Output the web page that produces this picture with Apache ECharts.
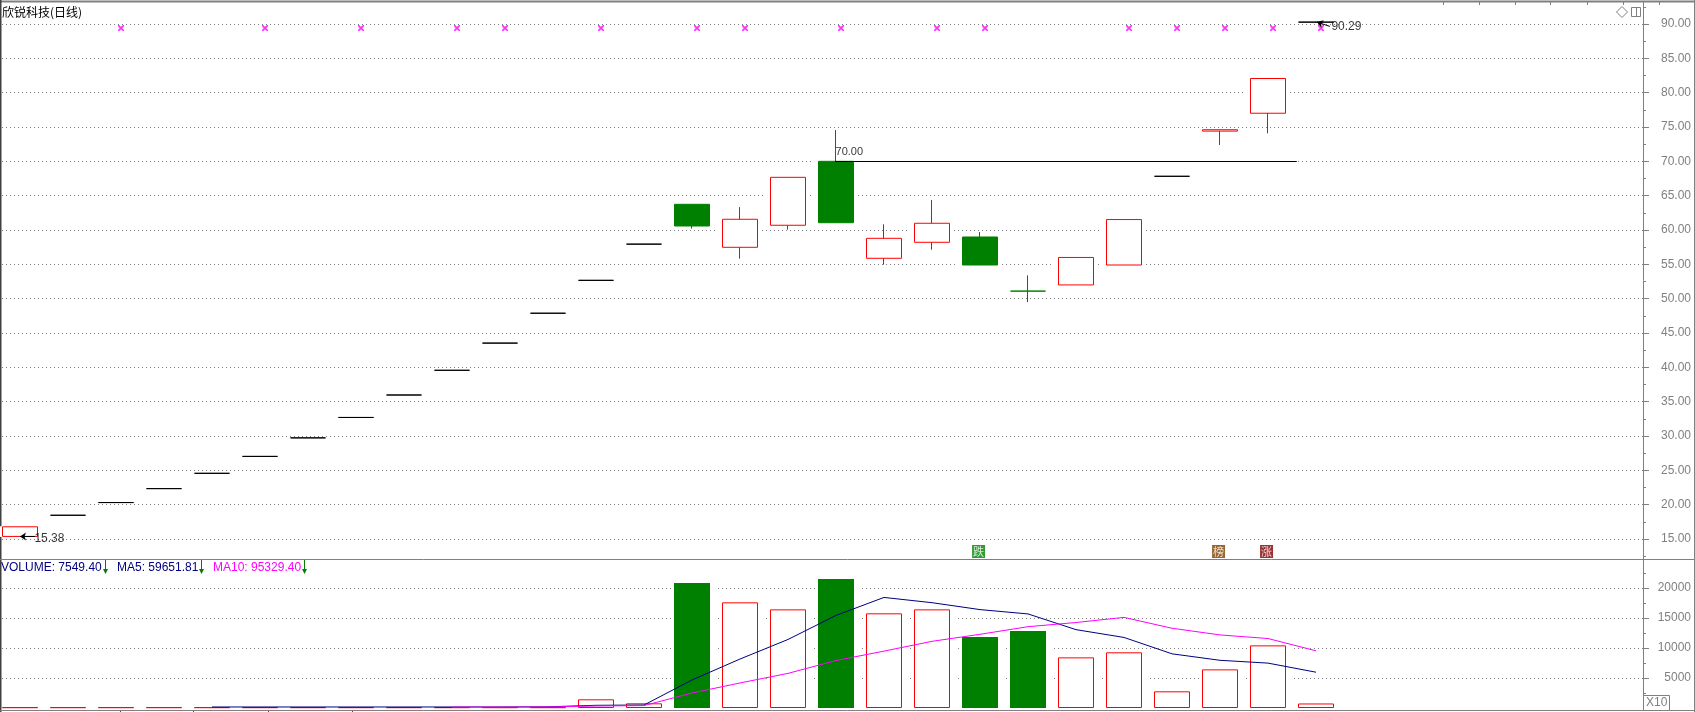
<!DOCTYPE html>
<html><head><meta charset="utf-8">
<style>html,body{margin:0;padding:0;background:#fff}#c{width:1695px;height:712px}</style>
<script src="https://cdn.jsdelivr.net/npm/echarts@6/dist/echarts.min.js"></script>
</head><body><div id="c"></div>
<script>
// ---- data ----
const dayIndex = [0,1,2,3,4,5,6,7,8,9,10,11,12,13,14,15,16,17,18,19,20,21,22,23,24,25,26,27];
const opens  = [15.38,18.46,20.31,22.34,24.57,27.03,29.73,32.70,35.97,39.57,43.53,47.88,52.67,57.94,63.74,57.48,60.69,70.00,55.88,58.21,58.98,51.10,52.00,54.90,67.82,74.40,77.00,90.27];
const closes = [16.78,18.46,20.31,22.34,24.57,27.03,29.73,32.70,35.97,39.57,43.53,47.88,52.67,57.94,60.58,61.56,67.67,61.06,58.79,60.98,54.90,51.10,56.00,61.52,67.82,74.60,82.06,90.27];
const lows   = [15.38,18.46,20.31,22.34,24.57,27.03,29.73,32.70,35.97,39.57,43.53,47.88,52.67,57.94,60.19,55.82,60.05,61.06,54.95,57.13,54.90,49.50,52.00,54.90,67.82,72.38,74.08,90.27];
const highs  = [16.78,18.46,20.31,22.34,24.57,27.03,29.73,32.70,35.97,39.57,43.53,47.88,52.67,57.94,63.74,63.33,67.67,74.56,60.83,64.37,59.70,53.40,56.00,61.52,67.82,74.60,82.06,90.27];
const volumes = [130,130,130,130,130,130,130,130,130,130,130,130,1450,780,20830,17610,16440,21500,15780,16440,11830,12830,8440,9280,2780,6440,10440,755];
const ma5Values  = [null,null,null,null,170,170,170,170,170,170,170,200,450,500,4670,8160,11420,15430,18430,17550,16400,15680,13060,11760,9030,7950,7480,5965];
const ma10Values = [null,null,null,null,null,null,null,null,null,150,150,170,330,400,2500,4170,5770,7910,9480,11110,12280,13550,14250,15100,13290,12180,11580,9533];
const greenDoji = [21];
const greenVolumeDays = [14,17,20,21];
const crossDays = [2,5,7,9,10,12,14,15,17,19,20,23,24,25,26,27];
const crossPrice = 89.4;
const priceTicks = [15,20,25,30,35,40,45,50,55,60,65,70,75,80,85,90];
const priceMinorTicks = [12.5,17.5,22.5,27.5,32.5,37.5,42.5,47.5,52.5,57.5,62.5,67.5,72.5,77.5,82.5,87.5,92.5];
const volumeTicks = [5000,10000,15000,20000];
const volumeMinorTicks = [2500,7500,12500,17500,22500];
const tagNames = ['跌','榜','涨'];
const tagDays = [19.97,24.97,25.97];
const tagColors = ['#008000','#804000','#800000'];
const tagPrice = 13.18;
const notes = [['15.38',0.29,15.0,12],['90.29',27.31,89.56,12],['70.00',16.98,71.36,11]];
const chartTitle = '欣锐科技(日线)';

const RED='#ff0000', GREEN='#008000', GRAY='#808080', NAVY='#000080', PINK='#ff00ff';
const FONT='"Liberation Sans",Arial,sans-serif', CJK='"Noto Sans CJK SC",sans-serif';
const candles = dayIndex.map((d,i)=>[d,opens[i],closes[i],lows[i],highs[i]]);
const candleItems = candles.map((c,i)=>greenDoji.includes(i)?{value:c,itemStyle:{borderColorDoji:GREEN}}:c);
const volBars = dayIndex.map((d,i)=>({value:[d,volumes[i]],itemStyle:greenVolumeDays.includes(i)?{color:GREEN,borderColor:GREEN,borderWidth:0}:{color:'#fff',borderColor:RED,borderWidth:1}}));
const volHalo = dayIndex.map((d,i)=>[d,volumes[i]]);
const grid1={left:2,top:2,width:1641,height:557}, grid2={left:2,top:560,width:1641,height:150};
const xCommon={type:'value',min:-0.375,max:33.8125,show:false,splitLine:{show:false}};
const dotted={show:true,lineStyle:{color:GRAY,type:[1,3],width:1}};
function yAxisMain(gridIndex,min,max,ticks,fmt){return {type:'value',gridIndex,position:'right',min,max,scale:true,
  axisLine:{show:true,onZero:false,lineStyle:{color:GRAY,width:1}},
  axisTick:{show:true,length:6,customValues:ticks,lineStyle:{color:GRAY}},
  axisLabel:{show:true,customValues:ticks,formatter:fmt,align:'right',margin:48,color:GRAY,fontFamily:FONT,fontSize:12,padding:[5,0,0,0],showMinLabel:true,showMaxLabel:true,hideOverlap:false},
  splitLine:dotted};}
// the short in-between ticks: a second axis of the same pane, moved onto the right edge
function yAxisMinor(gridIndex,min,max,ticks){return {type:'value',gridIndex,position:'left',offset:-1641,min,max,scale:true,
  axisLine:{show:false,onZero:false},axisLabel:{show:false},splitLine:{show:false},
  axisTick:{show:true,inside:true,length:3,customValues:ticks,lineStyle:{color:GRAY}}};}

const crossPath='path://M0 0H2V1H3V2H4V1H5V0H7V2H6V3H5V4H6V5H7V7H5V6H4V5H3V6H2V7H0V5H1V4H2V3H1V2H0Z';
const strokeLine=(x1,y1,x2,y2,c,w)=>({type:'line',shape:{x1,y1,x2,y2},style:{stroke:c,lineWidth:w||1},silent:true});
const legendBits=[[1,'VOLUME: 7549.40',NAVY,105],[117,'MA5: 59651.81',NAVY,201],[213,'MA10: 95329.40',PINK,304]];
const gfx=[];
gfx.push(strokeLine(0,1.5,1695,1.5,GRAY,2));
gfx.push(strokeLine(0.5,0,0.5,712,'#404040',2));
gfx.push(strokeLine(0,559.5,1695,559.5,GRAY,1));
gfx.push(strokeLine(0,710.5,1695,710.5,GRAY,1));
gfx.push(strokeLine(1694.5,0,1694.5,712,GRAY,1));
[1443,1479,1515,1550,1587,1623,1659].forEach(x=>gfx.push(strokeLine(x+.5,2,x+.5,5,GRAY,1)));
[[120,RED],[193,GREEN],[268,RED],[352,GREEN]].forEach(t=>gfx.push(strokeLine(t[0]+.5,711,t[0]+.5,712,t[1],1)));
legendBits.forEach(b=>{
  gfx.push({type:'text',x:b[0],y:568,silent:true,style:{text:b[1],fill:b[2],font:'12px '+FONT,textVerticalAlign:'middle',textBaseline:'middle'}});
  gfx.push(strokeLine(b[3]+.5,560,b[3]+.5,573,GREEN,1));
  gfx.push({type:'polygon',silent:true,shape:{points:[[b[3]-2,569],[b[3]+3,569],[b[3]+.5,574]]},style:{fill:GREEN}});
});
gfx.push({type:'polygon',silent:true,shape:{points:[[1622,6.5],[1627.5,12],[1622,17.5],[1616.5,12]]},style:{fill:'#fff',stroke:GRAY,lineWidth:1}});
gfx.push({type:'rect',silent:true,shape:{x:1631.5,y:7.5,width:9,height:9},style:{fill:'#fff',stroke:GRAY,lineWidth:1}});
gfx.push(strokeLine(1636.5,7,1636.5,17,GRAY,1));
gfx.push({type:'rect',silent:true,shape:{x:1643.5,y:695.5,width:26,height:15},style:{fill:'#fff',stroke:GRAY,lineWidth:1}});
gfx.push({type:'text',x:1646,y:703,silent:true,style:{text:'X10',fill:GRAY,font:'12px '+FONT,textBaseline:'middle',textVerticalAlign:'middle'}});

const chart=echarts.init(document.getElementById('c'),null,{renderer:'canvas'});
chart.setOption({
  animation:false,backgroundColor:'#fff',
  title:{text:chartTitle,left:2,top:5,padding:0,textStyle:{fontFamily:CJK,fontSize:12,fontWeight:'normal',color:'#000',lineHeight:14}},
  grid:[grid1,grid2],
  xAxis:[Object.assign({gridIndex:0},xCommon),Object.assign({gridIndex:1},xCommon)],
  yAxis:[
    yAxisMain(0,12.09,93.2,priceTicks,v=>Number(v).toFixed(2)),
    yAxisMinor(0,12.09,93.2,priceMinorTicks),
    yAxisMain(1,-333,24667,volumeTicks,v=>String(v)),
    yAxisMinor(1,-333,24667,volumeMinorTicks)
  ],
  series:[
    {name:'halo',type:'candlestick',xAxisIndex:0,yAxisIndex:0,barWidth:43,silent:true,z:2,data:candles,
      itemStyle:{color:'#fff',color0:'#fff',borderColor:'#fff',borderColor0:'#fff',borderWidth:1}},
    {name:'K',type:'candlestick',xAxisIndex:0,yAxisIndex:0,barWidth:36,silent:true,z:3,data:candleItems,
      itemStyle:{color:'#fff',color0:GREEN,borderColor:RED,borderColor0:GREEN,borderColorDoji:'#000',borderWidth:1},
      markLine:{silent:true,symbol:'none',animation:false,label:{show:false},lineStyle:{color:'#000',type:'solid',width:1},
        data:[[{coord:[16.98,70]},{coord:[26.6,70]}]]}},
    {name:'cross',type:'scatter',xAxisIndex:0,yAxisIndex:0,silent:true,z:4,symbol:crossPath,symbolSize:6,itemStyle:{color:PINK},
      data:crossDays.map(d=>[d+0.104,crossPrice])},
    {name:'tags',type:'scatter',xAxisIndex:0,yAxisIndex:0,silent:true,z:4,symbol:'rect',symbolSize:13,
      data:tagNames.map((n,i)=>({value:[tagDays[i],tagPrice],itemStyle:{color:tagColors[i]},
        label:{show:true,formatter:n,position:'inside',color:'#fff',fontSize:11,fontFamily:CJK}}))},
    {name:'notes',type:'scatter',xAxisIndex:0,yAxisIndex:0,silent:true,z:5,symbolSize:1,itemStyle:{color:'transparent'},
      data:notes.map(n=>({value:[n[1],n[2]],label:{show:true,formatter:n[0],position:'right',distance:0,color:'#000',fontSize:n[3],fontFamily:FONT}})),
      markLine:{silent:true,animation:false,label:{show:false},symbolSize:6,lineStyle:{color:'#000',type:'solid',width:1},
        data:[[{coord:[0,15.38],symbol:'arrow'},{coord:[0.31,15.38],symbol:'none'}],
              [{coord:[27.02,90.27],symbol:'arrow'},{coord:[27.29,89.65],symbol:'none'}]]}},
    {name:'volHalo',type:'bar',xAxisIndex:1,yAxisIndex:2,barWidth:43,barGap:'-100%',silent:true,z:2,itemStyle:{color:'#fff'},data:volHalo},
    {name:'VOLUME',type:'bar',xAxisIndex:1,yAxisIndex:2,barWidth:36,barGap:'-100%',silent:true,z:3,data:volBars},
    {name:'MA5',type:'line',xAxisIndex:1,yAxisIndex:2,silent:true,z:4,showSymbol:false,symbol:'none',connectNulls:false,
      lineStyle:{color:NAVY,width:1},data:dayIndex.map((d,i)=>[d,ma5Values[i]])},
    {name:'MA10',type:'line',xAxisIndex:1,yAxisIndex:2,silent:true,z:5,showSymbol:false,symbol:'none',connectNulls:false,
      lineStyle:{color:PINK,width:1},data:dayIndex.map((d,i)=>[d,ma10Values[i]])}
  ],
  graphic:{elements:gfx}
});
</script></body></html>
